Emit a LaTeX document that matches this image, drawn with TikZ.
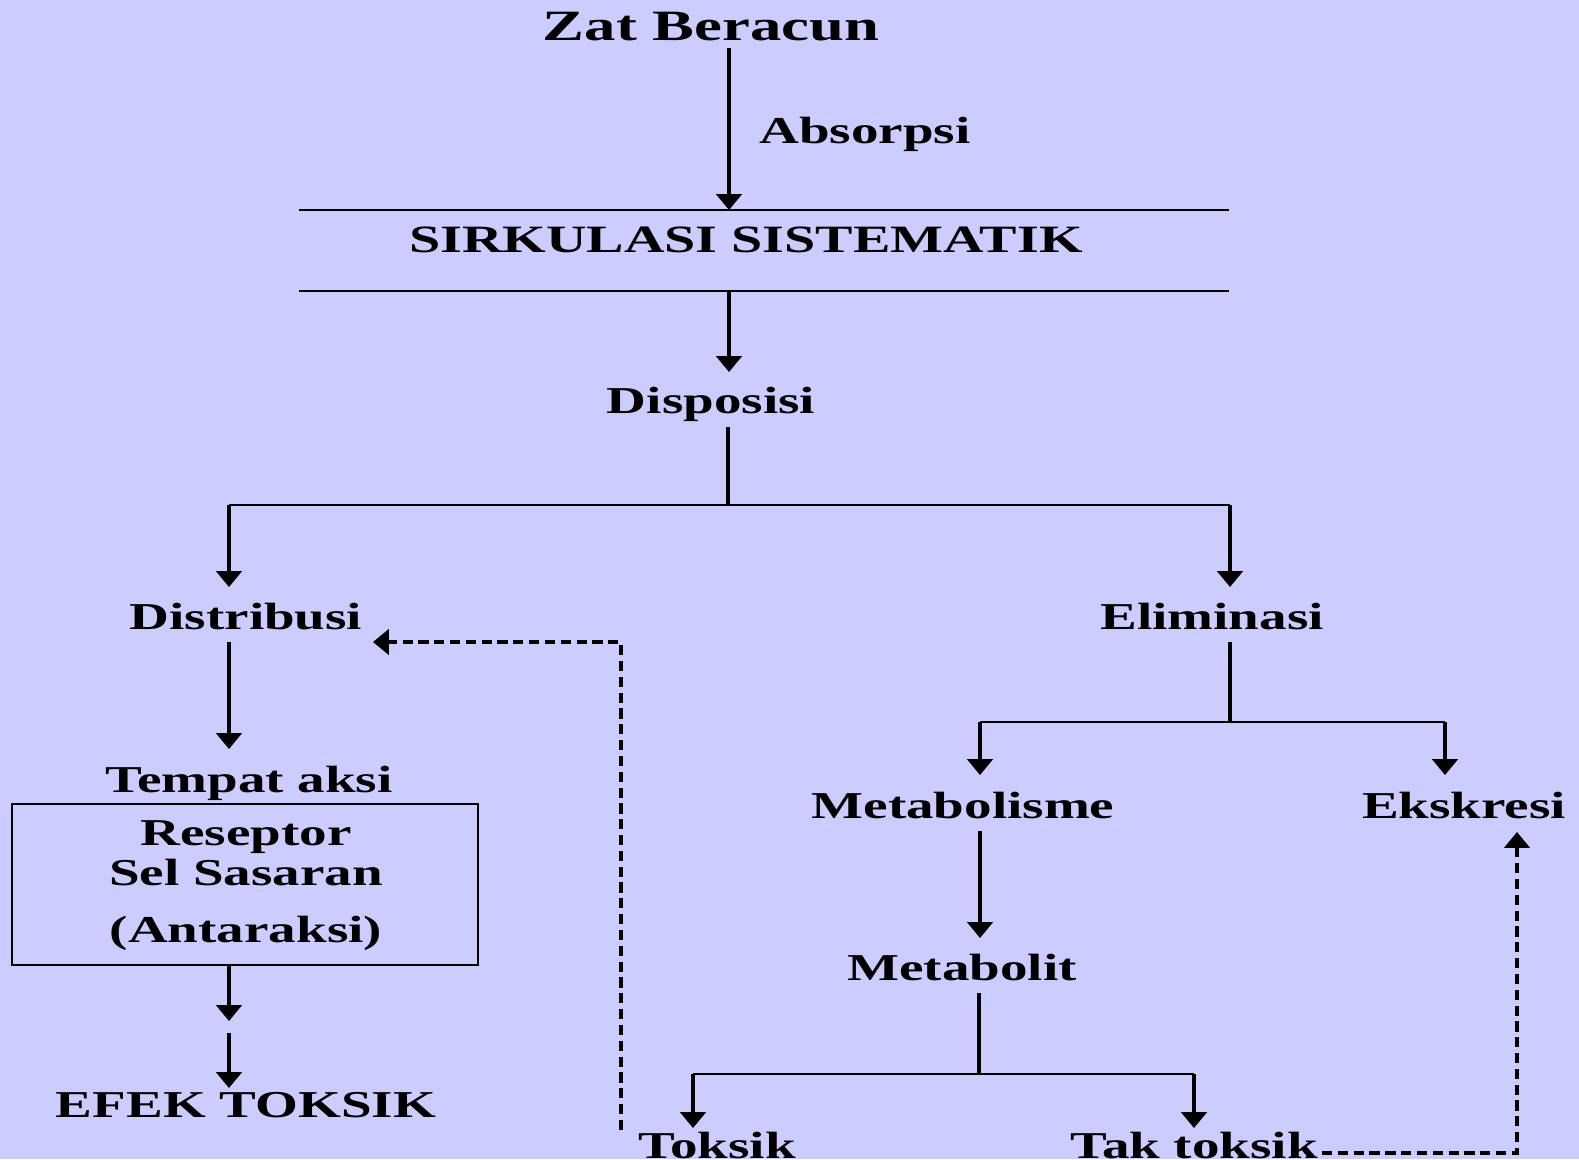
\documentclass[tikz,border=0pt]{standalone}
\usepackage{fontspec}
\newfontfamily\wf[FakeStretch=1.45]{Liberation Serif}
\usetikzlibrary{arrows.meta}
\definecolor{bgc}{RGB}{204,204,255}
\begin{document}
\begin{tikzpicture}[x=0.01cm,y=-0.01cm,
  lbl/.style={anchor=base,inner sep=0pt,font=\wf\bfseries\fontsize{10.8}{13}\selectfont},
  big/.style={lbl,font=\wf\bfseries\fontsize{12.3}{14}\selectfont},
  mid/.style={lbl,font=\wf\bfseries\fontsize{11}{13}\selectfont},
  arr/.style={line width=0.9pt,-{Triangle[width=7.2pt,length=4.5pt]}},
  ln/.style={line width=0.9pt},
  thin/.style={line width=0.7pt},
  dsh/.style={line width=0.9pt,dash pattern=on 2.9pt off 1.6pt},
  dsharr/.style={dsh,-{Triangle[width=7.2pt,length=4.5pt]}}]
\useasboundingbox (0,0) rectangle (1579,1159);
\fill[bgc] (0,0) rectangle (1579,1159);
\clip (0,0) rectangle (1579,1159);
% texts
\node[big] (zat) at (711,40) {Zat Beracun};
\node[lbl] (abs) at (865,143) {Absorpsi};
\node[mid] (sirk) at (746,252) {SIRKULASI SISTEMATIK};
\node[lbl] (disp) at (711,413) {Disposisi};
\node[lbl] (dist) at (246,629) {Distribusi};
\node[lbl] (elim) at (1212,629) {Eliminasi};
\node[lbl] (tempat) at (249,792) {Tempat aksi};
\node[lbl] (resep) at (246,845) {Reseptor};
\node[lbl] (sel) at (246,885) {Sel Sasaran};
\node[lbl] (antar) at (246,942) {(Antaraksi)};
\node[lbl] (efek) at (246,1117) {EFEK TOKSIK};
\node[lbl] (metab) at (963,818) {Metabolisme};
\node[lbl] (eks) at (1464,818) {Ekskresi};
\node[lbl] (metlit) at (962,980) {Metabolit};
\node[lbl] (toks) at (717,1158) {Toksik};
\node[lbl] (tak) at (1194,1158) {Tak toksik};
% box
\coordinate (boxnw) at (12,804);
\coordinate (boxse) at (478,965);
\draw[thin] (boxnw) rectangle (boxse);
% sirkulasi lines
\coordinate (sl1) at (299,210); \coordinate (sr1) at (1229,210);
\coordinate (sl2) at (299,291); \coordinate (sr2) at (1229,291);
\draw[thin] (sl1) -- (sr1);
\draw[thin] (sl2) -- (sr2);
% coordinates
\coordinate (a1s) at (729,48);  \coordinate (a1e) at (729,210);
\coordinate (a2s) at (729,291); \coordinate (a2e) at (729,372);
\coordinate (d0) at (728,427);  \coordinate (d1) at (728,505);
\coordinate (dl) at (229,505);  \coordinate (dr) at (1230,505);
\coordinate (dle) at (229,587); \coordinate (dre) at (1230,587);
\coordinate (t0) at (229,642);  \coordinate (t1) at (229,749);
\coordinate (b0) at (229,965);  \coordinate (b1) at (229,1021);
\coordinate (b2) at (229,1033); \coordinate (b3) at (229,1088);
\coordinate (e0) at (1230,642); \coordinate (e1) at (1230,722);
\coordinate (el) at (980,722);  \coordinate (er) at (1445,722);
\coordinate (ele) at (980,775); \coordinate (ere) at (1445,775);
\coordinate (m0) at (980,831);  \coordinate (m1) at (980,938);
\coordinate (k0) at (979,993);  \coordinate (k1) at (979,1074);
\coordinate (kl) at (693,1074); \coordinate (kr) at (1194,1074);
\coordinate (kle) at (693,1128); \coordinate (kre) at (1194,1128);
\coordinate (f0) at (621,1130); \coordinate (f1) at (621,642);
\coordinate (f2) at (373,642);
\coordinate (g0) at (1322,1153); \coordinate (g1) at (1517,1153);
\coordinate (g2) at (1517,832);
% connectors
\draw[arr] (a1s) -- (a1e);
\draw[arr] (a2s) -- (a2e);
\draw[ln] (d0) -- (d1);
\draw[thin] (dl) -- (dr);
\draw[arr] (dl) -- (dle);
\draw[arr] (dr) -- (dre);
\draw[arr] (t0) -- (t1);
\draw[arr] (b0) -- (b1);
\draw[arr] (b2) -- (b3);
\draw[ln] (e0) -- (e1);
\draw[thin] (el) -- (er);
\draw[arr] (el) -- (ele);
\draw[arr] (er) -- (ere);
\draw[arr] (m0) -- (m1);
\draw[ln] (k0) -- (k1);
\draw[thin] (kl) -- (kr);
\draw[arr] (kl) -- (kle);
\draw[arr] (kr) -- (kre);
\draw[dsharr] (f0) -- (f1) -- (f2);
\draw[dsharr] (g0) -- (g1) -- (g2);
\end{tikzpicture}
\end{document}
